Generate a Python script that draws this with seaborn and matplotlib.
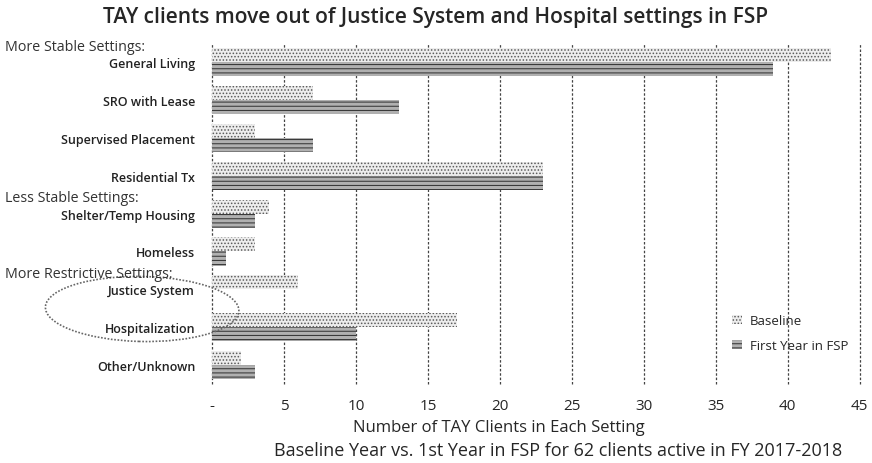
import pandas as pd
import seaborn as sns
import matplotlib.pyplot as plt
from matplotlib.patches import Ellipse, Patch

settings = ['General Living', 'SRO with Lease', 'Supervised Placement', 'Residential Tx',
            'Shelter/Temp Housing', 'Homeless', 'Justice System', 'Hospitalization',
            'Other/Unknown']
baseline = [43, 7, 3, 23, 4, 3, 6, 17, 2]
first_year = [39, 13, 7, 23, 3, 1, 0, 10, 3]
series = ['Baseline', 'First Year in FSP']
group_headers = {'More Stable Settings:': 0, 'Less Stable Settings:': 4,
                 'More Restrictive Settings:': 6}
xticks = [0, 5, 10, 15, 20, 25, 30, 35, 40, 45]
xtick_labels = ['-', '5', '10', '15', '20', '25', '30', '35', '40', '45']

df = pd.DataFrame({
    'Setting': settings * 2,
    'Clients': baseline + first_year,
    'Period': [series[0]] * len(settings) + [series[1]] * len(settings),
})

sns.set_style('white')
plt.rcParams['font.family'] = ['Open Sans', 'DejaVu Sans']
plt.rcParams['hatch.linewidth'] = 0.7

fig = plt.figure(figsize=(8.72, 4.64), dpi=100)
ax = fig.add_axes([0.243, 0.17, 0.743, 0.735])

sns.barplot(data=df, y='Setting', x='Clients', hue='Period', orient='h',
            width=0.74, ax=ax, legend=False, palette=['#ffffff', '#bdbdbd'])

styles = [dict(facecolor='#ededed', hatch='.....', edgecolor='#5a5a5a'),
          dict(facecolor='#b0b0b0', hatch='----', edgecolor='#2e2e2e')]
n = len(settings)
for i, bar in enumerate(ax.patches[:2 * n]):
    st = styles[i // n]
    bar.set_facecolor(st['facecolor'])
    bar.set_hatch(st['hatch'])
    bar.set_edgecolor(st['edgecolor'])
    bar.set_linewidth(0)

ax.set_xlim(0, 45)
ax.set_ylim(n - 0.5, -0.5)
ax.set_xticks(xticks)
ax.set_xticklabels(xtick_labels, fontsize=11)
ax.tick_params(axis='x', length=0, pad=10)
ax.tick_params(axis='y', length=0, pad=12)
for lab in ax.get_yticklabels():
    lab.set_fontsize(9)
    lab.set_fontweight('semibold')
    lab.set_color('#222222')
for s in ax.spines.values():
    s.set_visible(False)
for x in xticks:
    ax.axvline(x, color='#444444', lw=0.9, ls=(0, (2, 1.5)), zorder=0, clip_on=False)
ax.set_xlabel('')
ax.set_ylabel('')

fig.text(0.5, 0.963, 'TAY clients move out of Justice System and Hospital settings in FSP',
         ha='center', va='center', fontsize=15, fontweight='semibold')
fig.text(499 / 872, 1 - 428 / 464, 'Number of TAY Clients in Each Setting',
         ha='center', va='center', fontsize=12)
fig.text(558 / 872, 1 - 451 / 464,
         'Baseline Year vs. 1st Year in FSP for 62 clients active in FY 2017-2018',
         ha='center', va='center', fontsize=13)

# group headers just above their first category label
for text, idx in group_headers.items():
    y_disp = ax.transData.transform((0, idx - 0.42))[1]
    fig.text(0.006, y_disp / fig.bbox.height, text, ha='left', va='center',
             fontsize=10.3, color='#333333')

handles = [Patch(facecolor=styles[k]['facecolor'], hatch=styles[k]['hatch'],
                 edgecolor=styles[k]['edgecolor'], lw=0, label=series[k]) for k in range(2)]
ax.legend(handles=handles, loc='lower right', bbox_to_anchor=(1.0, 0.06), frameon=False,
          fontsize=9.5, handlelength=0.7, handleheight=0.7, handletextpad=0.6,
          labelspacing=0.9)

fig.add_artist(Ellipse((0.163, 1 - 310 / 464), 0.222, 0.14, angle=-3,
                       transform=fig.transFigure, fill=False, edgecolor='#666666',
                       lw=1.2, ls=(0, (1, 1))))

fig.savefig('out.png', dpi=100)
